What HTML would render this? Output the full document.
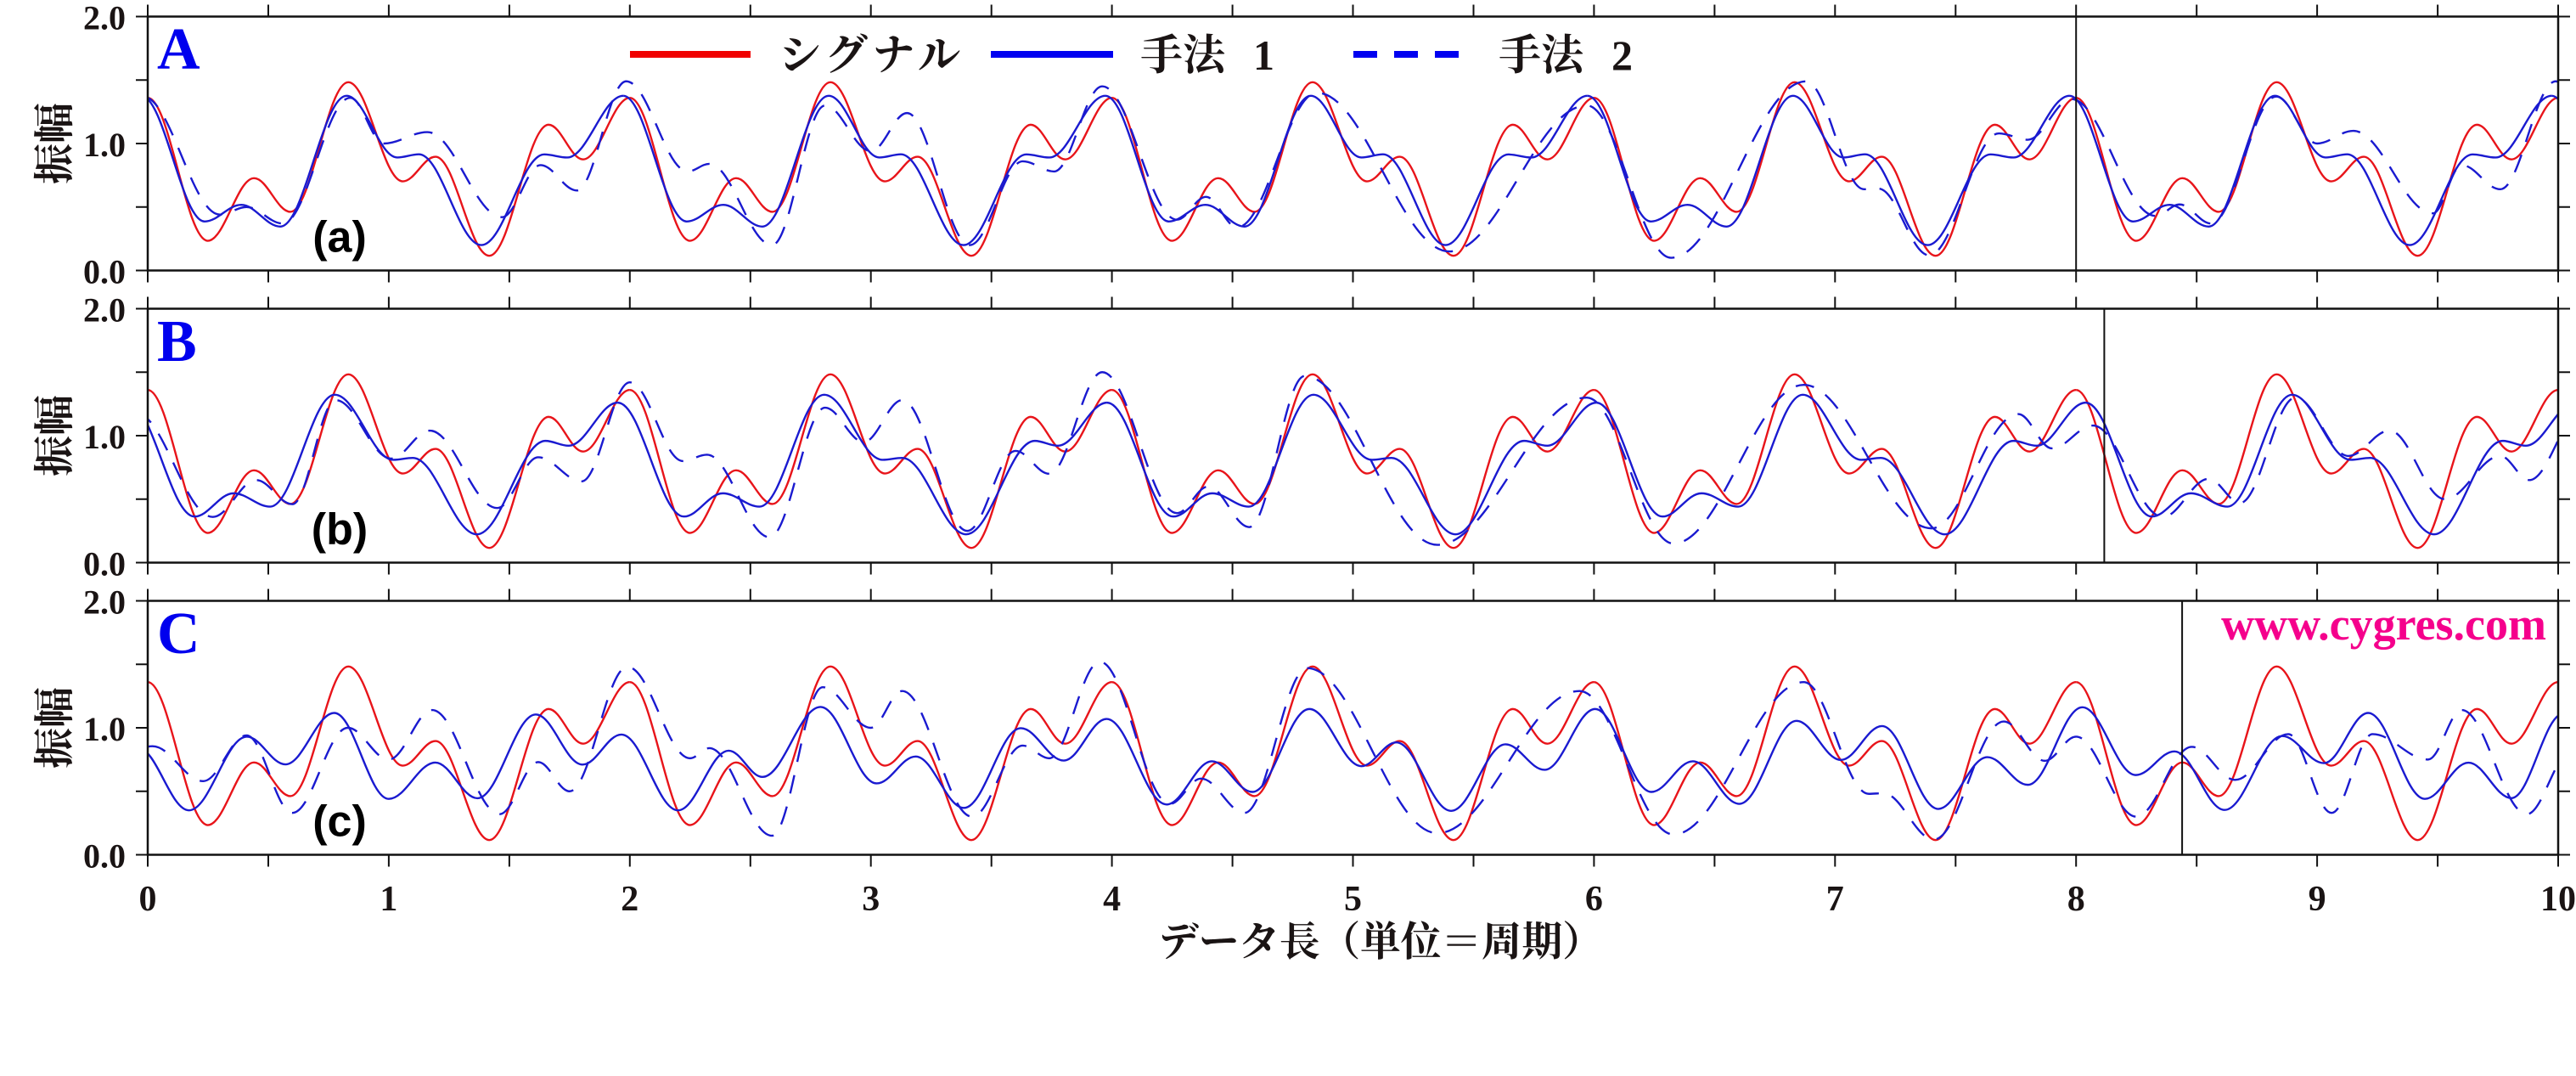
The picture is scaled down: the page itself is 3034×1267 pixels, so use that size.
<!DOCTYPE html>
<html><head><meta charset="utf-8">
<style>
html,body{margin:0;padding:0;background:#fff;width:3034px;height:1267px;overflow:hidden}
svg{display:block}
.ser{font-family:"Liberation Serif","Noto Serif CJK SC",serif;font-weight:bold}
.cjk{font-family:"Liberation Serif","Noto Serif CJK SC",serif;font-weight:bold}
.sans{font-family:"Liberation Sans",sans-serif;font-weight:bold}
</style></head>
<body>
<svg width="3034" height="1267" viewBox="0 0 3034 1267" xmlns="http://www.w3.org/2000/svg">
<rect width="3034" height="1267" fill="#fff"/>
<defs>
<path id="sig" fill="none" vector-effect="non-scaling-stroke" d="M0 64 C9.06 64 15.84 176.6 24.9 176.6 C31.89 176.6 37.11 127.3 44.1 127.3 C49.6 127.3 53.7 153.8 59.2 153.8 C67.94 153.8 74.46 51.7 83.2 51.7 C91.43 51.7 97.57 129.8 105.8 129.8 C110.75 129.8 114.45 110.4 119.4 110.4 C127.52 110.4 133.58 188.4 141.7 188.4 C150.65 188.4 157.35 85.2 166.3 85.2 C171.51 85.2 175.39 112.5 180.6 112.5 C187.66 112.5 192.94 64 200 64"/>
<path id="m1a" fill="none" vector-effect="non-scaling-stroke" d="M-2.7 62.4 C6.87 62.4 14.03 161.4 23.6 161.4 C29.13 161.4 33.27 148.3 38.8 148.3 C44.7 148.3 49.1 165.4 55 165.4 C65.01 165.4 72.49 62.4 82.5 62.4 C90.14 62.4 95.86 111 103.5 111 C106.78 111 109.22 108.5 112.5 108.5 C121.93 108.5 128.97 180 138.4 180 C147.9 180 155 108.6 164.5 108.6 C167.96 108.6 170.54 111 174 111 C182.48 111 188.82 62.4 197.3 62.4"/>
<path id="m1b" fill="none" vector-effect="non-scaling-stroke" d="M-8 74 C1.97 74 9.43 163.7 19.4 163.7 C25.3 163.7 29.7 145.4 35.6 145.4 C41.13 145.4 45.27 155.9 50.8 155.9 C60.56 155.9 67.84 67.8 77.6 67.8 C86.45 67.8 93.05 119 101.9 119 C104.85 119 107.05 117.5 110 117.5 C119.65 117.5 126.85 177.7 136.5 177.7 C146.87 177.7 154.63 104.1 165 104.1 C168.49 104.1 171.11 107.9 174.6 107.9 C182.03 107.9 187.57 74 195 74"/>
<g id="frame" fill="none" stroke="#111">
<path stroke-width="2.5" d="M174 0H3013V299H174Z"/>
<path stroke-width="2" d="M174 0v-14M316 0v-14M457.9 0v-14M599.9 0v-14M741.8 0v-14M883.8 0v-14M1025.7 0v-14M1167.7 0v-14M1309.6 0v-14M1451.6 0v-14M1593.5 0v-14M1735.5 0v-14M1877.4 0v-14M2019.4 0v-14M2161.3 0v-14M2303.3 0v-14M2445.2 0v-14M2587.2 0v-14M2729.1 0v-14M2871.1 0v-14M3013 0v-14
M174 299v14M316 299v14M457.9 299v14M599.9 299v14M741.8 299v14M883.8 299v14M1025.7 299v14M1167.7 299v14M1309.6 299v14M1451.6 299v14M1593.5 299v14M1735.5 299v14M1877.4 299v14M2019.4 299v14M2161.3 299v14M2303.3 299v14M2445.2 299v14M2587.2 299v14M2729.1 299v14M2871.1 299v14M3013 299v14
M174 0h-14M174 74.75h-14M174 149.5h-14M174 224.25h-14M174 299h-14
M3013 0h14M3013 74.75h14M3013 149.5h14M3013 224.25h14M3013 299h14"/>
</g>
</defs>

<!-- Panel A -->
<svg x="174" y="19.5" width="2839" height="299" viewBox="0 0 1000 200" preserveAspectRatio="none">
<g stroke="#e8141a" stroke-width="2.4" fill="none">
<use href="#sig" x="0"/><use href="#sig" x="200"/><use href="#sig" x="400"/><use href="#sig" x="600"/><use href="#sig" x="800"/>
</g>
<g stroke="#1a1ad0" stroke-width="2.4" fill="none">
<use href="#m1a" x="0"/><use href="#m1a" x="200"/><use href="#m1a" x="400"/><use href="#m1a" x="600"/><use href="#m1a" x="800"/><use href="#m1a" x="1000"/>
</g>
<path fill="none" stroke="#1a1ad0" stroke-width="2.4" stroke-dasharray="22 16" vector-effect="non-scaling-stroke" d="M-2 63 C9.65 63 18.35 156 30 156 C34 156 37 150 41 150 C46.46 150 50.54 163 56 163 C66.19 163 73.81 64 84 64 C89.1 64 92.9 100 98 100 C104.55 100 109.45 91 116 91 C127.28 91 135.72 158 147 158 C152.82 158 157.18 117 163 117 C168.46 117 172.54 137 178 137 C185.46 137 191.04 51 198.5 51 C207.78 51 214.72 122 224 122 C227.28 122 229.72 116 233 116 C242.46 116 249.54 180 259 180 C267.01 180 272.99 70 281 70 C287.92 70 293.08 106 300 106 C305.46 106 309.54 76 315 76 C324.46 76 331.54 180 341 180 C349.01 180 354.99 114 363 114 C367.73 114 371.27 122 376 122 C383.28 122 388.72 55 396 55 C407.28 55 415.72 160 427 160 C431.37 160 434.63 142 439 142 C443.73 142 447.27 166 452 166 C464.01 166 472.99 60 485 60 C505.02 60 519.98 185 540 185 C560.75 185 576.25 70 597 70 C609.74 70 619.26 190 632 190 C652.38 190 667.62 51 688 51 C696.74 51 703.26 136 712 136 C714.18 136 715.82 135.5 718 135.5 C725.64 135.5 731.36 188 739 188 C749.56 188 757.44 92 768 92 C772.37 92 775.63 97 780 97 C786.55 97 791.45 65 798 65 C810.74 65 820.26 157 833 157 C836.64 157 839.36 148 843 148 C847.73 148 851.27 163 856 163 C865.83 163 873.17 63 883 63 C889.19 63 893.81 100 900 100 C905.46 100 909.54 90 915 90 C927.01 90 935.99 155 948 155 C952.37 155 955.63 117 960 117 C965.82 117 970.18 136 976 136 C984.37 136 990.63 51 999 51 C1003 51 1006 70 1010 70"/>
</svg>

<!-- Panel B -->
<svg x="174" y="363.5" width="2839" height="299" viewBox="0 0 1000 200" preserveAspectRatio="none">
<g stroke="#e8141a" stroke-width="2.4" fill="none">
<use href="#sig" x="0"/><use href="#sig" x="200"/><use href="#sig" x="400"/><use href="#sig" x="600"/><use href="#sig" x="800"/>
</g>
<g stroke="#1a1ad0" stroke-width="2.4" fill="none">
<use href="#m1b" x="0"/><use href="#m1b" x="203"/><use href="#m1b" x="406"/><use href="#m1b" x="609"/><use href="#m1b" x="812"/>
</g>
<path fill="none" stroke="#1a1ad0" stroke-width="2.4" stroke-dasharray="22 16" vector-effect="non-scaling-stroke" d="M-5 82 C6.65 82 15.35 164 27 164 C33.55 164 38.45 135 45 135 C50.46 135 54.54 154 60 154 C66.55 154 71.45 72 78 72 C86.37 72 92.63 118 101 118 C106.82 118 111.18 96 117 96 C127.19 96 134.81 157 145 157 C151.19 157 155.81 117 162 117 C168.55 117 173.45 136 180 136 C187.28 136 192.72 58 200 58 C208.01 58 213.99 120 222 120 C225.64 120 228.36 115 232 115 C241.46 115 248.54 180 258 180 C266.37 180 272.63 78 281 78 C286.82 78 291.18 105 297 105 C302.82 105 307.18 72 313 72 C322.83 72 330.17 175 340 175 C347.28 175 352.72 112 360 112 C365.1 112 368.9 130 374 130 C382.01 130 387.99 50 396 50 C407.28 50 415.72 161 427 161 C431.73 161 435.27 140 440 140 C446.19 140 450.81 172 457 172 C465.37 172 471.63 53 480 53 C500.02 53 514.98 186 535 186 C557.57 186 574.43 70 597 70 C610.1 70 619.9 185 633 185 C652.66 185 667.34 60 687 60 C706.29 60 720.71 173 740 173 C753.1 173 762.9 83 776 83 C781.1 83 784.9 110 790 110 C796.19 110 800.81 92 807 92 C817.56 92 825.44 164 836 164 C842.92 164 848.08 134 855 134 C859.73 134 863.27 153 868 153 C876.37 153 882.63 70 891 70 C899.01 70 904.99 116 913 116 C919.19 116 923.81 96 930 96 C938.37 96 944.63 150 953 150 C961.37 150 967.63 116 976 116 C980.37 116 983.63 135 988 135 C996.01 135 1001.99 80 1010 80"/>
</svg>

<!-- Panel C -->
<svg x="174" y="707.5" width="2839" height="299" viewBox="0 0 1000 200" preserveAspectRatio="none">
<g stroke="#e8141a" stroke-width="2.4" fill="none">
<use href="#sig" x="0"/><use href="#sig" x="200"/><use href="#sig" x="400"/><use href="#sig" x="600"/><use href="#sig" x="800"/>
</g>
<path fill="none" stroke="#1a1ad0" stroke-width="2.4" vector-effect="non-scaling-stroke" d="M-4 116 C3.68 116 9.42 165 17.1 165 C25.84 165 32.36 107 41.1 107 C46.92 107 51.28 128.8 57.1 128.8 C64.49 128.8 70.01 88.3 77.4 88.3 C85.63 88.3 91.77 156 100 156 C107.03 156 112.27 127.4 119.3 127.4 C125.67 127.4 130.43 155.5 136.8 155.5 C145.61 155.5 152.19 89.5 161 89.5 C168.06 89.5 173.34 129 180.4 129 C186.26 129 190.64 105.3 196.5 105.3 C205.05 105.3 211.45 165 220 165 C227.64 165 233.36 118 241 118 C246.1 118 249.9 138.7 255 138.7 C263.77 138.7 270.33 83.6 279.1 83.6 C287.58 83.6 293.92 143.8 302.4 143.8 C308.3 143.8 312.7 122.6 318.6 122.6 C325.88 122.6 331.32 163.1 338.6 163.1 C347.19 163.1 353.61 100.3 362.2 100.3 C368.68 100.3 373.52 125.8 380 125.8 C386.48 125.8 391.32 93 397.8 93 C406.86 93 413.64 160.4 422.7 160.4 C429.54 160.4 434.66 126.4 441.5 126.4 C447.62 126.4 452.18 150.5 458.3 150.5 C466.89 150.5 473.31 85.2 481.9 85.2 C489.76 85.2 495.64 130.2 503.5 130.2 C508.78 130.2 512.72 111.5 518 111.5 C526.26 111.5 532.44 165.4 540.7 165.4 C548.93 165.4 555.07 113 563.3 113 C569.2 113 573.6 133.1 579.5 133.1 C587.14 133.1 592.86 85.2 600.5 85.2 C608.98 85.2 615.32 150.5 623.8 150.5 C630.06 150.5 634.74 126.4 641 126.4 C648.03 126.4 653.27 159.9 660.3 159.9 C668.93 159.9 675.37 94.5 684 94.5 C690.7 94.5 695.7 125.3 702.4 125.3 C708.62 125.3 713.28 98.6 719.5 98.6 C727.98 98.6 734.32 163.9 742.8 163.9 C750.23 163.9 755.77 123.1 763.2 123.1 C769.32 123.1 773.88 144.9 780 144.9 C788.23 144.9 794.37 83.8 802.6 83.8 C810.68 83.8 816.72 137.2 824.8 137.2 C830.62 137.2 834.98 118.6 840.8 118.6 C848.37 118.6 854.03 164.7 861.6 164.7 C870.3 164.7 876.8 106.5 885.5 106.5 C891.8 106.5 896.5 127.8 902.8 127.8 C909.5 127.8 914.5 88.3 921.2 88.3 C929.75 88.3 936.15 156 944.7 156 C951.29 156 956.21 127.5 962.8 127.5 C969.28 127.5 974.12 155.4 980.6 155.4 C988.39 155.4 994.21 89 1002 89"/>
<path fill="none" stroke="#1a1ad0" stroke-width="2.4" stroke-dasharray="22 16" vector-effect="non-scaling-stroke" d="M0 115 C0.7 114.5 1.3 114.5 2 114.5 C9.64 114.5 15.36 142 23 142 C29.55 142 34.45 106 41 106 C47.92 106 53.08 167 60 167 C68.37 167 74.63 100 83 100 C89.19 100 93.81 125 100 125 C106.55 125 111.45 86 118 86 C128.19 86 135.81 168 146 168 C151.82 168 156.18 127 162 127 C166.73 127 170.27 150 175 150 C183.74 150 190.26 52 199 52 C208.46 52 215.54 124 225 124 C227.91 124 230.09 116 233 116 C242.46 116 249.54 185 259 185 C266.64 185 272.36 68 280 68 C287.28 68 292.72 100 300 100 C304.73 100 308.27 71 313 71 C323.56 71 331.44 170 342 170 C349.64 170 355.36 114 363 114 C367 114 370 124 374 124 C381.64 124 387.36 48 395 48 C405.56 48 413.44 160 424 160 C428.73 160 432.27 140 437 140 C443.55 140 448.45 167 455 167 C464.46 167 471.54 53 481 53 C500.66 53 515.34 183 535 183 C556.48 183 572.52 71 594 71 C608.2 71 618.8 184 633 184 C652.66 184 667.34 64 687 64 C696.83 64 704.17 152 714 152 C716.2 152 717.8 151.5 720 151.5 C727.64 151.5 733.36 188 741 188 C751.56 188 759.44 95 770 95 C776.19 95 780.81 126 787 126 C791.73 126 795.27 107 800 107 C809.1 107 815.9 170 825 170 C833.37 170 839.63 115 848 115 C854.55 115 859.45 141 866 141 C874.01 141 879.99 105 888 105 C894.55 105 899.45 167 906 167 C912.19 167 916.81 105 923 105 C931.37 105 937.63 125 946 125 C951.1 125 954.9 86 960 86 C969.83 86 977.17 168 987 168 C993.55 168 998.45 120 1005 120"/>
</svg>

<!-- vertical markers -->
<g stroke="#111" stroke-width="2">
<line x1="2445.2" y1="19.5" x2="2445.2" y2="318.5"/>
<line x1="2478.4" y1="363.5" x2="2478.4" y2="662.5"/>
<line x1="2570.1" y1="707.5" x2="2570.1" y2="1006.5"/>
</g>

<!-- frames & ticks -->
<use href="#frame" y="19.5"/>
<use href="#frame" y="363.5"/>
<use href="#frame" y="707.5"/>

<!-- y tick labels -->
<g class="ser" font-size="40" fill="#1a1414" text-anchor="end">
<text x="148" y="34.5">2.0</text><text x="148" y="184">1.0</text><text x="148" y="333.5">0.0</text>
<text x="148" y="378.5">2.0</text><text x="148" y="528">1.0</text><text x="148" y="677.5">0.0</text>
<text x="148" y="722.5">2.0</text><text x="148" y="872">1.0</text><text x="148" y="1021.5">0.0</text>
</g>

<!-- y axis titles -->
<g class="cjk" font-size="48" fill="#1a1414" text-anchor="middle">
<text transform="translate(65,169) rotate(-90)" dominant-baseline="central">振幅</text>
<text transform="translate(65,513) rotate(-90)" dominant-baseline="central">振幅</text>
<text transform="translate(65,857) rotate(-90)" dominant-baseline="central">振幅</text>
</g>

<!-- panel letters -->
<g class="ser" font-size="70" fill="#0000ee">
<text x="185" y="81">A</text>
<text x="185" y="425">B</text>
<text x="185" y="769">C</text>
</g>
<g class="sans" font-size="52" fill="#000" text-anchor="middle">
<text x="400" y="296.5">(a)</text>
<text x="400" y="640.5">(b)</text>
<text x="400" y="984.5">(c)</text>
</g>

<!-- legend -->
<line x1="742" y1="64" x2="884" y2="64" stroke="#f00000" stroke-width="8"/>
<text class="cjk" x="917" y="82" font-size="50" fill="#1a1414" textLength="214" lengthAdjust="spacing">シグナル</text>
<line x1="1167" y1="64" x2="1311" y2="64" stroke="#0000f0" stroke-width="8"/>
<text class="cjk" x="1343" y="82" font-size="50" fill="#1a1414">手法</text>
<text class="cjk" x="1476" y="82" font-size="50" fill="#1a1414">1</text>
<line x1="1594" y1="64" x2="1718" y2="64" stroke="#0000f0" stroke-width="8" stroke-dasharray="28 20"/>
<text class="cjk" x="1765" y="82" font-size="50" fill="#1a1414">手法</text>
<text class="cjk" x="1898" y="82" font-size="50" fill="#1a1414">2</text>

<!-- watermark -->
<text class="ser" x="2999" y="753" font-size="54" fill="#f5008c" text-anchor="end">www.cygres.com</text>

<!-- x tick labels -->
<g class="ser" font-size="42" fill="#1a1414" text-anchor="middle">
<text x="174" y="1072">0</text><text x="457.9" y="1072">1</text><text x="741.8" y="1072">2</text><text x="1025.7" y="1072">3</text><text x="1309.6" y="1072">4</text><text x="1593.5" y="1072">5</text><text x="1877.4" y="1072">6</text><text x="2161.3" y="1072">7</text><text x="2445.2" y="1072">8</text><text x="2729.1" y="1072">9</text><text x="3013" y="1072">10</text>
</g>

<!-- x axis title -->
<text class="cjk" x="1364" y="1125" font-size="48" fill="#1a1414" textLength="524" lengthAdjust="spacing">データ長（単位＝周期）</text>
</svg>
</body></html>
